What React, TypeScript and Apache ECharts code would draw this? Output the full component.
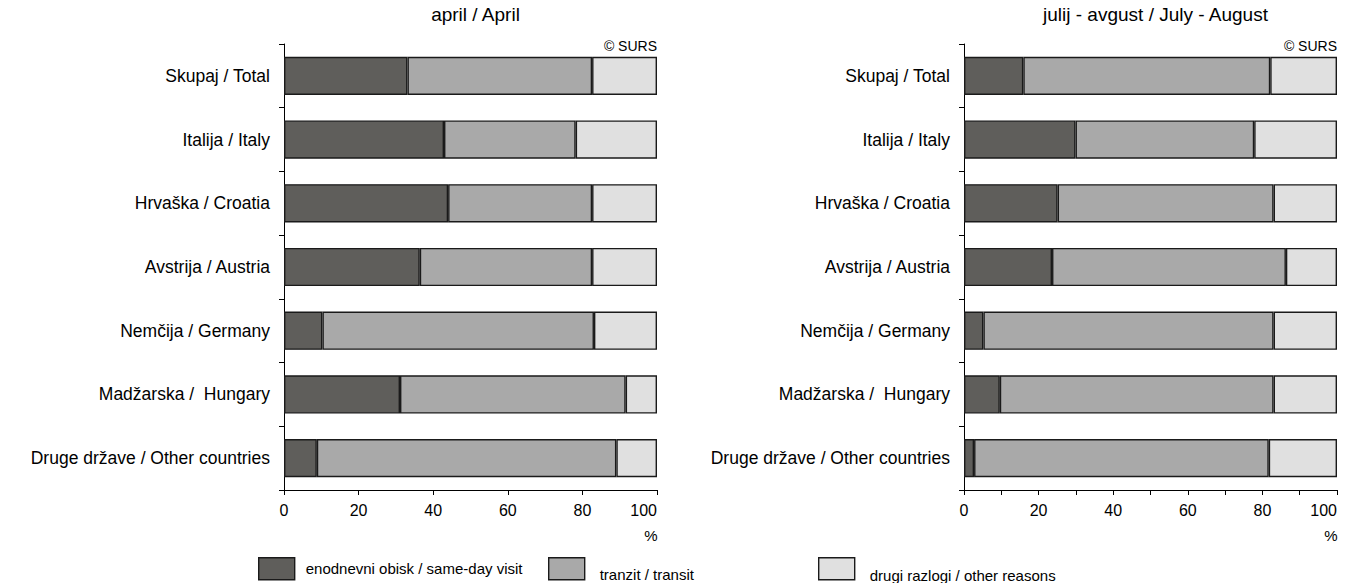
import React, { useEffect, useRef } from "react";
import * as echarts from "echarts";

const categories = [
  "Skupaj / Total",
  "Italija / Italy",
  "Hrvaška / Croatia",
  "Avstrija / Austria",
  "Nemčija / Germany",
  "Madžarska /  Hungary",
  "Druge države / Other countries",
];

const seriesNames = [
  "enodnevni obisk / same-day visit",
  "tranzit / transit",
  "drugi razlogi / other reasons",
];

// April
const aprilSameDay = [33.1, 42.9, 44.0, 36.4, 10.3, 31.1, 8.8];
const aprilTransit = [49.5, 35.3, 38.6, 46.2, 72.8, 60.5, 80.3];
const aprilOther = [17.4, 21.8, 17.4, 17.4, 16.9, 8.4, 10.9];

// July - August
const julAugSameDay = [15.9, 29.9, 25.1, 23.6, 5.2, 9.6, 2.7];
const julAugTransit = [66.2, 47.9, 57.9, 62.7, 77.8, 73.4, 79.0];
const julAugOther = [17.9, 22.2, 17.0, 13.7, 17.0, 17.0, 18.3];

const xTicks = [0, 20, 40, 60, 80, 100];

const titles = ["april / April", "julij - avgust / July - August"];
const colors = ["#5f5e5b", "#a9a9a9", "#e0e0e0"];

const FONT = "'Liberation Sans', Arial, sans-serif";

export default function App() {
  const ref = useRef<HTMLDivElement>(null);
  useEffect(() => {
    if (!ref.current) return;
    const chart = echarts.init(ref.current, undefined, { renderer: "svg" });
    const grids = [
      { left: 284, width: 373, top: 44, height: 446, outerBoundsMode: "none", containLabel: false },
      { left: 964, width: 373, top: 44, height: 446, outerBoundsMode: "none", containLabel: false },
    ];
    const data = [
      [aprilSameDay, aprilTransit, aprilOther],
      [julAugSameDay, julAugTransit, julAugOther],
    ];
    const xAxis = grids.map((_, i) => ({
      type: "value",
      gridIndex: i,
      min: xTicks[0],
      max: xTicks[xTicks.length - 1],
      interval: 20,
      name: "%",
      nameLocation: "end",
      nameGap: -6,
      nameTextStyle: {
        color: "#000",
        fontSize: 15,
        fontFamily: FONT,
        align: "center",
        verticalAlign: "top",
        padding: [38, 0, 0, 0],
      },
      axisLine: { show: true, lineStyle: { color: "#000", width: 1 } },
      axisTick: { show: true, length: 5, lineStyle: { color: "#000" } },
      minorTick: { show: i === 1, splitNumber: 2, length: 5, lineStyle: { color: "#000" } },
      splitLine: { show: false },
      axisLabel: {
        color: "#000",
        fontSize: 16,
        fontFamily: FONT,
        margin: 12,
        hideOverlap: false,
        alignMaxLabel: "right",
      },
    }));
    const yAxis = grids.map((_, i) => ({
      type: "category",
      gridIndex: i,
      data: categories,
      inverse: true,
      axisLine: { show: true, lineStyle: { color: "#000", width: 1 } },
      axisTick: { show: true, length: 5, lineStyle: { color: "#000" } },
      axisLabel: { color: "#000", fontSize: 17.5, fontFamily: FONT, margin: 14 },
    }));
    const series: any[] = [];
    data.forEach((set, gi) => {
      set.forEach((vals, si) => {
        series.push({
          type: "bar",
          name: seriesNames[si],
          xAxisIndex: gi,
          yAxisIndex: gi,
          stack: "s" + gi,
          data: vals,
          barWidth: "60%",
          itemStyle: { color: colors[si], borderColor: "#1a1a1a", borderWidth: 1.4 },
        });
      });
    });
    const legendLefts = [258, 548, 818];
    const legendShift = [0, 11, 13];
    const legend = seriesNames.map((n, i) => ({
      data: [n],
      left: legendLefts[i],
      top: 557,
      padding: 0,
      itemWidth: 36,
      itemHeight: 22,
      itemGap: 14,
      icon: "rect",
      itemStyle: { borderColor: "#1a1a1a", borderWidth: 1.4 },
      formatter: (name: string) => `{t|${name}}`,
      textStyle: {
        color: "#000",
        fontSize: 15,
        fontFamily: FONT,
        rich: {
          t: {
            color: "#000",
            fontSize: 15,
            fontFamily: FONT,
            padding: [legendShift[i], 0, 0, i === 0 ? 6 : 10],
          },
        },
      },
      selectedMode: false,
    }));
    chart.setOption({
      animation: false,
      backgroundColor: "#fff",
      title: titles.map((t, i) => ({
        text: t,
        left: grids[i].left + grids[i].width / 2,
        textAlign: "center",
        top: 0,
        textStyle: { color: "#000", fontSize: 19, fontWeight: "normal", fontFamily: FONT },
      })),
      grid: grids,
      xAxis,
      yAxis,
      series,
      legend,
      graphic: grids.map((g) => ({
        type: "text",
        right: 1347 - (g.left + g.width),
        top: 39,
        style: { text: "© SURS", fill: "#000", fontSize: 14, fontFamily: FONT },
      })),
    });
    return () => chart.dispose();
  }, []);
  return <div ref={ref} style={{ width: 1347, height: 583, position: "absolute", left: 0, top: 0 }} />;
}
